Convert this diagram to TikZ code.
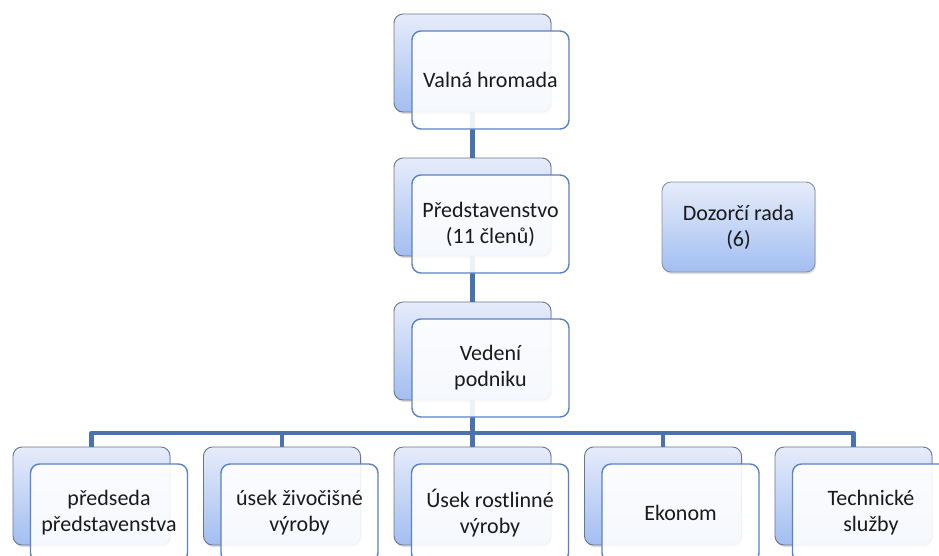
\documentclass[tikz,border=0pt]{standalone}
\usepackage{fontspec}
\setmainfont{Carlito}
\usetikzlibrary{shadows}

\definecolor{backtop}{HTML}{E6ECFA}
\definecolor{backbot}{HTML}{A2BEF1}
\definecolor{backline}{HTML}{68768F}
\definecolor{frontline}{HTML}{5A82C2}
\definecolor{connblue}{HTML}{4A72AE}
\definecolor{txt}{HTML}{1A1A1A}

\begin{document}
\begin{tikzpicture}[x=1pt,y=-1pt,line join=round,
  backbox/.style={draw=backline,line width=0.9pt,rounded corners=9pt,
    top color=backtop,bottom color=backbot,minimum width=157pt,minimum height=98pt,
    drop shadow={opacity=0.25,shadow xshift=1pt,shadow yshift=-2pt}},
  frontbox/.style={draw=frontline,line width=1.4pt,rounded corners=9pt,
    fill=white,fill opacity=0.9,text opacity=1,minimum width=157pt,minimum height=98pt,
    align=center,text=txt,font=\fontsize{22}{26}\selectfont},
  conn/.style={draw=connblue,line width=4.5pt}]
  \path[use as bounding box,clip] (0,0) rectangle (939,555);
  \fill[white] (0,0) rectangle (939,555);

  % column
  \node[backbox] (valnaB) at (472.5,63){};
  \node[backbox] (predB) at (472.5,207){};
  \node[backbox] (vedB) at (472.5,351){};
  \coordinate (bus) at (472.5,433);

  % lower row
  \node[backbox] (b1) at (91.5,496){};
  \node[backbox] (b2) at (282,496){};
  \node[backbox] (b3) at (472.5,496){};
  \node[backbox] (b4) at (663,496){};
  \node[backbox] (b5) at (853.5,496){};

  % lines
  \draw[conn] (valnaB.south) -- (predB.north);
  \draw[conn] (predB.south) -- (vedB.north);
  \foreach \b in {b1,b2,b3,b4,b5}
    \draw[conn] (vedB.south) -- (bus) -| (\b.north);

  % front boxes
  \node[frontbox] (valna) at (490.5,80){Valná hromada};
  \node[frontbox] (pred) at (490.5,224){Představenstvo\\(11 členů)};
  \node[frontbox] (ved) at (490.5,368){Vedení\\podniku};
  \node[frontbox] (f1) at (109,513){předseda\\představenstva};
  \node[frontbox] (f2) at (299.5,513){úsek živočišné\\výroby};
  \node[frontbox] (f3) at (490,513){Úsek rostlinné\\výroby};
  \node[frontbox] (f4) at (680.5,513){Ekonom};
  \node[frontbox] (f5) at (871,513){Technické\\služby};

  % side box
  \node[backbox,minimum width=153pt,minimum height=90pt,draw=backline!80,
    align=center,text=txt,font=\fontsize{22}{26}\selectfont] (dozor) at (738.5,227){Dozorčí rada\\(6)};
\end{tikzpicture}
\end{document}
